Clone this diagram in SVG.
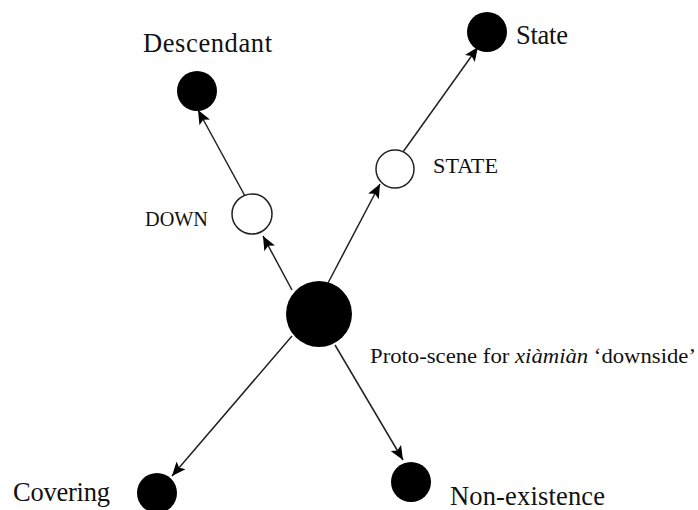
<svg xmlns="http://www.w3.org/2000/svg" width="698" height="510" viewBox="0 0 698 510">
<style>
.lbl{font-family:"Liberation Serif","Times New Roman",serif;fill:#111}
.big{font-size:26.5px}
.sm{font-size:21px}
.pr{font-size:21px}
.edge{stroke:#222;stroke-width:1.5;fill:none;marker-end:url(#ah)}
.fill{fill:#000}
.open{fill:#fff;stroke:#222;stroke-width:1.5}
</style>
<defs>
<marker id="ah" markerUnits="userSpaceOnUse" markerWidth="15" markerHeight="12" refX="14" refY="6" orient="auto">
<path d="M0,0 L14,6 L0,12 L3,6 z" fill="#000"/>
</marker>
</defs>
<rect width="698" height="510" fill="#fff"/>
<g id="connectors">
<line class="edge" x1="292" y1="290" x2="263" y2="236"/>
<line class="edge" x1="245" y1="196" x2="198" y2="110"/>
<line class="edge" x1="328" y1="283" x2="380" y2="184"/>
<line class="edge" x1="403" y1="152" x2="478" y2="47"/>
<line class="edge" x1="292" y1="336" x2="172" y2="476"/>
<line class="edge" x1="335" y1="345" x2="403" y2="460"/>
</g>
<g id="proto">
<circle class="fill" cx="319" cy="314" r="33"/>
<text class="lbl pr" x="370" y="363" textLength="326" lengthAdjust="spacingAndGlyphs">Proto-scene for <tspan font-style="italic">xiàmiàn</tspan> ‘downside’</text>
</g>
<g id="down">
<circle class="open" cx="252" cy="214" r="20"/>
<text class="lbl sm" x="145" y="226" textLength="63" lengthAdjust="spacingAndGlyphs">DOWN</text>
</g>
<g id="descendant">
<circle class="fill" cx="197" cy="91" r="20"/>
<text class="lbl big" x="143" y="52" textLength="129">Descendant</text>
</g>
<g id="state-mid">
<circle class="open" cx="395" cy="169" r="19"/>
<text class="lbl sm" x="433" y="173" textLength="65" lengthAdjust="spacingAndGlyphs">STATE</text>
</g>
<g id="state">
<circle class="fill" cx="487" cy="32" r="20"/>
<text class="lbl big" x="516" y="44" textLength="52">State</text>
</g>
<g id="covering">
<circle class="fill" cx="157" cy="493" r="20"/>
<text class="lbl big" x="13" y="501" textLength="97">Covering</text>
</g>
<g id="nonexistence">
<circle class="fill" cx="411" cy="482" r="20"/>
<text class="lbl big" x="450" y="505" textLength="155">Non-existence</text>
</g>
</svg>
